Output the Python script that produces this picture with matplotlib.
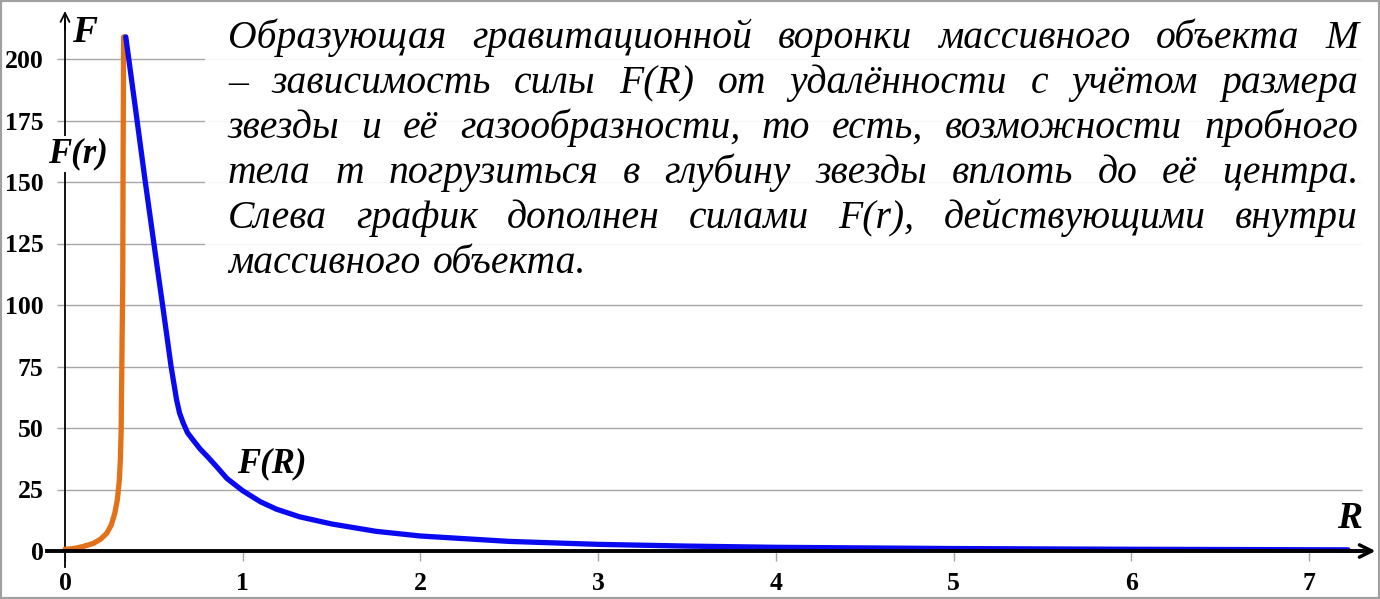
import numpy as np
import matplotlib
matplotlib.use('Agg')
from matplotlib import pyplot as plt
from matplotlib.patches import Rectangle

# F(r) внутри объекта (оранжевая кривая)
r_in = [0.0, 0.05, 0.10, 0.16, 0.20, 0.235, 0.26, 0.28, 0.295, 0.306, 0.312, 0.316, 0.319, 0.322, 0.325, 0.327, 0.33]
f_in = [0.7, 1.0, 1.8, 3.1, 4.8, 7.2, 10.5, 15.3, 21.0, 28.9, 38.0, 49.0, 69.5, 90.0, 110.0, 160.0, 209.0]

# F(R) снаружи (синяя кривая)
r_out = [0.342, 0.40, 0.45, 0.506, 0.553, 0.597, 0.628, 0.645, 0.666, 0.69, 0.722, 0.76, 0.80, 0.853, 0.911,
         1.0, 1.1, 1.19, 1.32, 1.5, 1.75, 2.0, 2.5, 3.0, 3.5, 4.0, 5.0, 6.0, 7.22]
f_out = [209.0, 178.0, 151.0, 122.0, 98.0, 75.0, 61.4, 56.0, 51.9, 48.0, 45.0, 41.5, 38.5, 34.3, 29.5,
         24.5, 20.0, 17.0, 13.9, 11.0, 8.0, 6.1, 3.9, 2.7, 2.0, 1.5, 1.0, 0.7, 0.47]

xticks = [0, 1, 2, 3, 4, 5, 6, 7]
yticks = [0, 25, 50, 75, 100, 125, 150, 175, 200]

text_lines = [
    'Образующая гравитационной воронки массивного объекта М',
    '– зависимость силы F(R) от удалённости с учётом размера',
    'звезды и её газообразности, то есть, возможности пробного',
    'тела m погрузиться в глубину звезды вплоть до её центра.',
    'Слева график дополнен силами F(r), действующими внутри',
    'массивного объекта.',
]

W, H = 1380, 599
fig = plt.figure(figsize=(W / 100, H / 100), dpi=100)
fig.patch.set_facecolor('white')

# пиксели: x=0 -> 65, 177.7 px на единицу; y=0 -> 551, 2.46 px на единицу
px_x, px_y = 177.7, 2.46
ax_l, ax_r, ax_t, ax_b = 40, 1378, 8, 575
ax = fig.add_axes([ax_l / W, (H - ax_b) / H, (ax_r - ax_l) / W, (ax_b - ax_t) / H])
ax.set_xlim((ax_l - 65) / px_x, (ax_r - 65) / px_x)
ax.set_ylim((551 - ax_b) / px_y, (551 - ax_t) / px_y)
ax.patch.set_alpha(0)

serif = 'Liberation Serif'

# сетка
ax.hlines(yticks[1:], -0.045, 7.3, color='#a6a6a6', lw=1.0, zorder=1)

# оси
for s in ['top', 'right']:
    ax.spines[s].set_visible(False)
ax.spines['left'].set_position(('data', 0))
ax.spines['bottom'].set_position(('data', 0))
ax.spines['left'].set_bounds(-6.5, 216)
ax.spines['left'].set_linewidth(1.3)
ax.spines['bottom'].set_bounds(-0.1, 7.3)
ax.spines['bottom'].set_linewidth(2.8)
ax.spines['left'].set_zorder(2)
ax.spines['bottom'].set_zorder(4)

ax.annotate('', xy=(0, 219.5), xytext=(0, 212), zorder=4,
            arrowprops=dict(arrowstyle='->', lw=1.3, color='black', mutation_scale=16, shrinkA=0, shrinkB=0))
ax.annotate('', xy=(7.375, 0), xytext=(7.2, 0), zorder=4,
            arrowprops=dict(arrowstyle='->', lw=2.5, color='black', mutation_scale=22, shrinkA=0, shrinkB=0))

ax.set_xticks(xticks)
ax.set_yticks(yticks)
ax.tick_params(axis='x', direction='out', length=7, width=1, color='#a6a6a6', pad=8)
ax.tick_params(axis='y', length=0, pad=15.5)
for lab in ax.get_xticklabels() + ax.get_yticklabels():
    lab.set_fontfamily(serif)
    lab.set_fontweight('bold')
    lab.set_fontsize(18.5)

# кривые
ax.plot(r_in, f_in, color='#e3711a', lw=3.8, solid_capstyle='round', zorder=3)
ax.plot(r_out, f_out, color='#0a0af0', lw=3.8, solid_capstyle='round', zorder=3)

lab_kw = dict(fontfamily=serif, fontstyle='italic', fontweight='bold', va='baseline', ha='left', zorder=5)
ax.text(0.04, 207, 'F', fontsize=27, **lab_kw)
ax.text(-0.096, 158, 'F(r)', fontsize=25,
        bbox=dict(facecolor='white', edgecolor='none', pad=1), **lab_kw)
ax.text(0.97, 32, 'F(R)', fontsize=25, **lab_kw)
ax.text(7.16, 9.3, 'R', fontsize=27, **lab_kw)

# белая подложка под текст
fig.add_artist(Rectangle((205 / W, (H - 295) / H), (1368 - 205) / W, (295 - 15) / H,
                         transform=fig.transFigure, facecolor='white', edgecolor='none',
                         alpha=0.92, zorder=2))

# текст по ширине
fig.canvas.draw()
rend = fig.canvas.get_renderer()
left_px, right_px = 228, 1358
for i, line in enumerate(text_lines):
    words = line.split()
    y = (H - (48 + 45 * i)) / H
    tt = [fig.text(0, y, w, fontsize=28.5, fontfamily=serif, fontstyle='italic',
                   va='baseline', ha='left', zorder=3) for w in words]
    widths = [t.get_window_extent(rend).width for t in tt]
    if i == len(text_lines) - 1:
        gap = 12
    else:
        gap = (right_px - left_px - sum(widths)) / (len(words) - 1)
    x = left_px
    for t, w in zip(tt, widths):
        t.set_x(x / W)
        x += w + gap

# рамка
fig.add_artist(Rectangle((0, 0), 1, 1, transform=fig.transFigure, facecolor='none',
                         edgecolor='#a0a0a0', lw=3, zorder=10))

fig.savefig('out.png', dpi=100)
